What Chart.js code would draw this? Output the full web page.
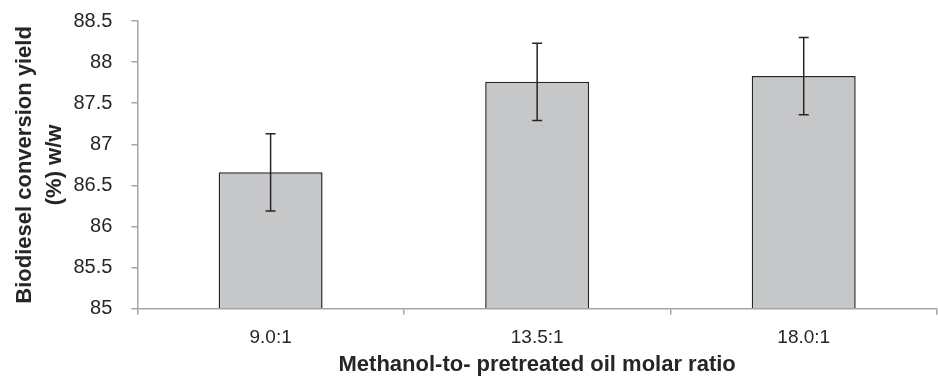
<!DOCTYPE html>
<html>

<head>
  <meta charset="utf-8">
  <title>Biodiesel yield</title>
  <style>
    html, body {
      margin: 0;
      padding: 0;
      background: #fff;
    }

    .wrap {
      width: 938px;
      height: 378px;
    }
  </style>
</head>

<body>
  <div class="wrap">
    <canvas id="yield-chart"></canvas>
  </div>

  <script src="https://cdn.jsdelivr.net/npm/chart.js"></script>

  <script>
    const ratios = ['9.0:1', '13.5:1', '18.0:1'];
    const yieldValues = [86.66, 87.76, 87.83];
    const yieldErrors = [0.47, 0.47, 0.47];
    const yTicks = [85, 85.5, 86, 86.5, 87, 87.5, 88, 88.5];

    // draws the +/- error whiskers on top of every bar
    const errorBars = {
      id: 'errorBars',
      afterDatasetsDraw(chart) {
        const ctx = chart.ctx;
        const y = chart.scales.y;
        const meta = chart.getDatasetMeta(0);
        ctx.save();
        ctx.strokeStyle = '#262626';
        ctx.lineWidth = 1.5;
        meta.data.forEach((bar, i) => {
          const top = y.getPixelForValue(yieldValues[i] + yieldErrors[i]);
          const bot = y.getPixelForValue(yieldValues[i] - yieldErrors[i]);
          ctx.beginPath();
          ctx.moveTo(bar.x, top);
          ctx.lineTo(bar.x, bot);
          ctx.moveTo(bar.x - 5, top);
          ctx.lineTo(bar.x + 5, top);
          ctx.moveTo(bar.x - 5, bot);
          ctx.lineTo(bar.x + 5, bot);
          ctx.stroke();
        });
        ctx.restore();
      }
    };

    Chart.defaults.font.family = '"Liberation Sans", Arial, sans-serif';
    Chart.defaults.color = '#262626';

    new Chart(document.getElementById('yield-chart'), {
      type: 'bar',
      data: {
        labels: ratios,
        datasets: [{
          data: yieldValues,
          backgroundColor: '#c6c7c9',
          borderColor: '#262626',
          borderWidth: 1.5,
          borderSkipped: 'bottom',
          barPercentage: 0.39,
          categoryPercentage: 1
        }]
      },
      options: {
        responsive: true,
        maintainAspectRatio: false,
        animation: false,
        layout: { padding: { top: 21, right: 1, left: 10, bottom: 0 } },
        plugins: {
          legend: { display: false },
          tooltip: { enabled: false }
        },
        scales: {
          x: {
            grid: { drawOnChartArea: false, tickLength: 6, color: '#a6a6a6', lineWidth: 1.5 },
            border: { color: '#a6a6a6', width: 1.5, z: 1 },
            ticks: { font: { size: 19 }, padding: 12 },
            title: {
              display: true,
              text: 'Methanol-to- pretreated oil molar ratio',
              font: { size: 22, weight: 'bold' },
              padding: { top: -10, bottom: 0 }
            }
          },
          y: {
            min: 85,
            max: 88.5,
            afterBuildTicks(scale) {
              scale.ticks = yTicks.map(v => ({ value: v }));
            },
            // tick padding would otherwise push the plot top down
            afterFit(scale) {
              scale.paddingTop = 0;
              scale.paddingBottom = 0;
            },
            grid: { drawOnChartArea: false, tickLength: 6, color: '#a6a6a6', lineWidth: 1.5 },
            border: { color: '#a6a6a6', width: 1.5 },
            ticks: {
              font: { size: 20 },
              padding: 19,
              callback: v => String(v)
            },
            title: {
              display: true,
              text: ['Biodiesel conversion yield', '(%) w/w'],
              font: { size: 22, weight: 'bold', lineHeight: 1.35 },
              padding: { top: 0, bottom: -15 }
            }
          }
        }
      },
      plugins: [errorBars]
    });
  </script>
</body>

</html>
